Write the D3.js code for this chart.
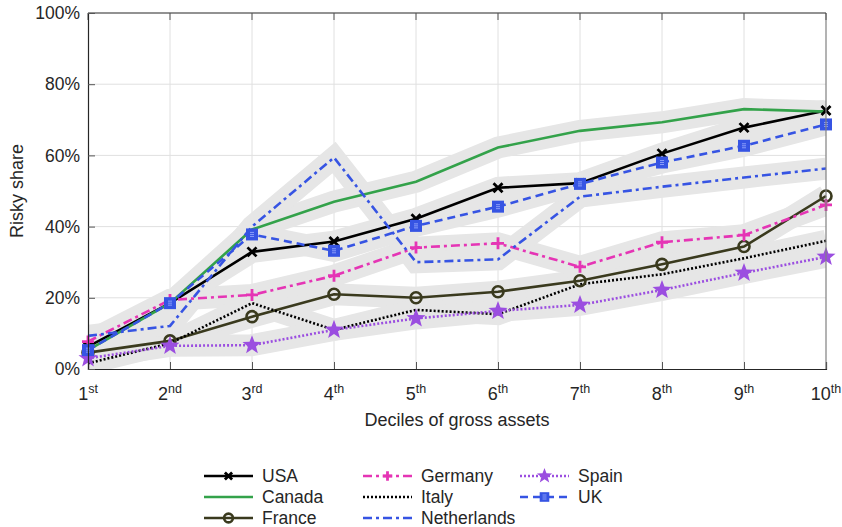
<!DOCTYPE html>
<html>
<head>
<meta charset="utf-8">
<script src="https://cdn.jsdelivr.net/npm/d3@7"></script>
<style>
  body { margin: 0; background: #fff; }
  text { font-family: "Liberation Sans", Arial, sans-serif; fill: #262626; }
</style>
</head>
<body>
<svg id="chart" width="842" height="527"></svg>
<script>
// deciles of gross assets
const deciles = [1, 2, 3, 4, 5, 6, 7, 8, 9, 10];
const decileSuffix = ['st', 'nd', 'rd', 'th', 'th', 'th', 'th', 'th', 'th', 'th'];
const yTicks = [0, 20, 40, 60, 80, 100];

// risky share (%) per country
const usa         = [6.3, 18.5, 32.9, 35.8, 42.2, 50.9, 52.2, 60.5, 67.8, 72.6];
const canada      = [5.3, 18.5, 39.2, 47.0, 52.6, 62.2, 66.9, 69.3, 73.0, 72.3];
const france      = [4.6, 7.9, 14.7, 21.0, 20.0, 21.7, 24.8, 29.4, 34.4, 48.6];
const germany     = [7.7, 19.4, 20.8, 26.2, 34.1, 35.3, 28.7, 35.6, 37.6, 46.1];
const italy       = [1.6, 7.2, 18.5, 11.0, 16.6, 15.4, 23.8, 26.6, 31.1, 36.0];
const netherlands = [9.3, 12.1, 40.0, 59.4, 30.0, 30.8, 48.4, 51.2, 53.8, 56.3];
const spain       = [3.0, 6.5, 6.7, 11.0, 14.2, 16.3, 18.0, 22.2, 27.0, 31.5];
const uk          = [5.3, 18.5, 37.8, 33.2, 40.2, 45.6, 52.0, 58.0, 62.7, 68.7];

const series = [
  { name: 'USA', values: usa, color: '#000000', dash: null, marker: 'x' },
  { name: 'Canada', values: canada, color: '#33a24a', dash: null, marker: null },
  { name: 'France', values: france, color: '#3a3a1e', dash: null, marker: 'o' },
  { name: 'Germany', values: germany, color: '#e535b5', dash: '9,4,3,4', marker: '+' },
  { name: 'Italy', values: italy, color: '#000000', dash: '2,2', marker: null },
  { name: 'Netherlands', values: netherlands, color: '#3654e3', dash: '9,4,3,4', marker: null },
  { name: 'Spain', values: spain, color: '#9b4ee0', dash: '2,2', marker: 'star' },
  { name: 'UK', values: uk, color: '#3654e3', dash: '8,5', marker: 's' }
];

const svg = d3.select('#chart');
const margin = { left: 88, right: 16, top: 13, bottom: 158 };
const W = 842, H = 527;
const iw = W - margin.left - margin.right;
const ih = H - margin.top - margin.bottom;

const x = d3.scaleLinear().domain([1, 10]).range([0, iw]);
const y = d3.scaleLinear().domain([0, 100]).range([ih, 0]);

svg.append('defs').append('clipPath').attr('id', 'plotClip')
  .append('rect').attr('width', iw).attr('height', ih);

const g = svg.append('g').attr('transform', `translate(${margin.left},${margin.top})`);

// grid
g.append('g').selectAll('line').data(deciles.slice(1, -1)).enter().append('line')
  .attr('x1', d => x(d)).attr('x2', d => x(d)).attr('y1', 0).attr('y2', ih)
  .style('stroke', '#e0e0e0').style('stroke-width', 1);
g.append('g').selectAll('line').data(yTicks.slice(1, -1)).enter().append('line')
  .attr('x1', 0).attr('x2', iw).attr('y1', d => y(d)).attr('y2', d => y(d))
  .style('stroke', '#e0e0e0').style('stroke-width', 1);

const line = d3.line().x((d, i) => x(deciles[i])).y(d => y(d));

// grey bands behind each series
g.append('g').attr('clip-path', 'url(#plotClip)')
  .selectAll('path').data(series).enter().append('path')
  .attr('d', d => line(d.values))
  .style('fill', 'none').style('stroke', '#e6e6e6')
  .style('stroke-width', 22).style('stroke-linejoin', 'miter').style('stroke-miterlimit', 2.5);

// lines
g.append('g').selectAll('path').data(series).enter().append('path')
  .attr('d', d => line(d.values))
  .style('fill', 'none').style('stroke', d => d.color)
  .style('stroke-width', 2.6)
  .style('stroke-dasharray', d => d.dash);

function starPath(r) {
  const pts = [];
  for (let k = 0; k < 10; k++) {
    const a = -Math.PI / 2 + k * Math.PI / 5;
    const rr = k % 2 === 0 ? r : r * 0.42;
    pts.push([rr * Math.cos(a), rr * Math.sin(a)]);
  }
  return 'M' + pts.map(p => p.join(',')).join('L') + 'Z';
}

function drawMarker(sel, s, k) {
  k = k || 1;
  if (s.marker === 'x') {
    const r = 4.5 * k;
    sel.append('path').attr('d', `M${-r},${-r}L${r},${r}M${-r},${r}L${r},${-r}`)
      .style('stroke', s.color).style('stroke-width', 2.8).style('fill', 'none');
  } else if (s.marker === 'o') {
    sel.append('circle').attr('r', 5.5 * k)
      .style('fill', 'none').style('stroke', s.color).style('stroke-width', 2.6);
  } else if (s.marker === '+') {
    const r = 6 * k;
    sel.append('path').attr('d', `M${-r},0L${r},0M0,${-r}L0,${r}`)
      .style('stroke', s.color).style('stroke-width', 2.8);
  } else if (s.marker === 'star') {
    sel.append('path').attr('d', starPath(10 * k)).style('fill', s.color);
  } else if (s.marker === 's') {
    const r = 6 * k;
    sel.append('rect').attr('x', -r).attr('y', -r).attr('width', 2 * r).attr('height', 2 * r)
      .style('fill', s.color);
    sel.append('path').attr('d', 'M-2,-2H2M-2,0H2M-2,2H2')
      .style('stroke', '#9fb0ff').style('stroke-width', 0.8);
  }
}

// markers
series.filter(s => s.marker).forEach(s => {
  g.append('g').selectAll('g').data(s.values).enter().append('g')
    .attr('transform', (d, i) => `translate(${x(deciles[i])},${y(d)})`)
    .each(function () { drawMarker(d3.select(this), s); });
});

// frame
g.append('line').attr('x1', iw).attr('x2', iw).attr('y1', 0).attr('y2', ih)
  .style('stroke', '#808080').style('stroke-width', 1.2);
g.append('line').attr('x1', 0).attr('x2', iw).attr('y1', 0).attr('y2', 0)
  .style('stroke', '#262626').style('stroke-width', 1.2);
g.append('g').selectAll('line').data(deciles).enter().append('line')
  .attr('x1', d => x(d)).attr('x2', d => x(d)).attr('y1', 0).attr('y2', 7)
  .style('stroke', '#555').style('stroke-width', 1);

// axes
const xAxis = g.append('g').attr('transform', `translate(0,${ih})`)
  .call(d3.axisBottom(x).tickValues(deciles).tickSize(-7).tickFormat(''));
const yAxis = g.append('g')
  .call(d3.axisLeft(y).tickValues(yTicks).tickSize(-7).tickFormat(''));
[xAxis, yAxis].forEach(a => {
  a.select('.domain').style('stroke', '#262626').style('stroke-width', 1.2);
  a.selectAll('.tick line').style('stroke', '#555');
});

// x tick labels with superscripts
const xl = g.append('g').selectAll('text').data(deciles).enter().append('text')
  .attr('x', d => x(d)).attr('y', ih + 31)
  .attr('text-anchor', 'middle').style('font-size', '18px');
xl.append('tspan').text(d => d);
xl.append('tspan').attr('dy', -7).style('font-size', '12.5px').text((d, i) => decileSuffix[i]);

// y tick labels
g.append('g').selectAll('text').data(yTicks).enter().append('text')
  .attr('x', -8).attr('y', d => y(d)).attr('dy', '0.35em')
  .attr('text-anchor', 'end').style('font-size', '17.5px')
  .text(d => d + '%');

// axis titles
g.append('text').attr('x', iw / 2).attr('y', ih + 57)
  .attr('text-anchor', 'middle').style('font-size', '18px')
  .text('Deciles of gross assets');
g.append('text').attr('transform', `translate(-65,${ih / 2}) rotate(-90)`)
  .attr('text-anchor', 'middle').style('font-size', '18px')
  .text('Risky share');

// legend
const legCols = [204, 363, 520];
const legRows = [476, 497, 518];
const leg = svg.append('g');
series.forEach((s, i) => {
  const col = Math.floor(i / 3), row = i % 3;
  const lx = legCols[col], ly = legRows[row];
  const item = leg.append('g').attr('transform', `translate(${lx},${ly})`);
  item.append('line').attr('x1', 0).attr('x2', 49).attr('y1', 0).attr('y2', 0)
    .style('stroke', s.color).style('stroke-width', 2.6)
    .style('stroke-dasharray', s.dash);
  if (s.marker) {
    const m = item.append('g').attr('transform', 'translate(24.5,0)');
    drawMarker(m, s, 0.8);
  }
  item.append('text').attr('x', 58).attr('y', 0).attr('dy', '0.36em')
    .style('font-size', '17.5px').text(s.name);
});
</script>
</body>
</html>
